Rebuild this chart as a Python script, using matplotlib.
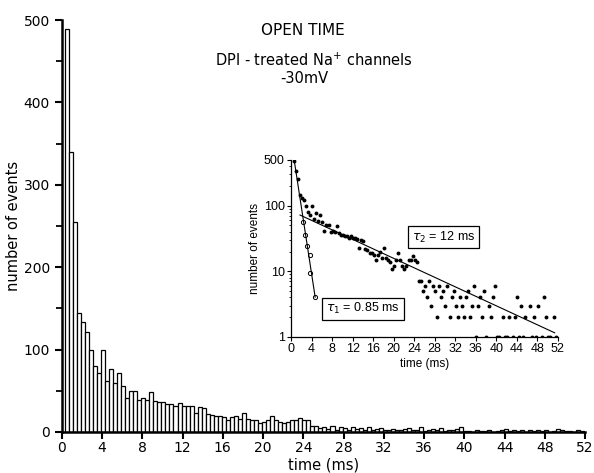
import matplotlib
matplotlib.use("Agg")
import matplotlib.pyplot as plt
import numpy as np

# ---------------- data ----------------
bin_start = 0.3      # ms, left edge of first bin
bin_width = 0.4      # ms
counts = [
    489, 340, 255, 145, 133, 121, 100, 80, 72, 100,
    62, 77, 59, 72, 56, 41, 50, 50, 39, 41,
    39, 49, 38, 36, 36, 34, 34, 32, 35, 32,
    32, 31, 23, 30, 29, 22, 21, 19, 19, 18,
    15, 18, 20, 16, 23, 16, 15, 14, 11, 12,
    15, 19, 15, 12, 11, 12, 15, 15, 17, 15,
    14, 7, 7, 5, 6, 4, 7, 3, 6, 5,
    2, 6, 4, 5, 3, 6, 2, 4, 5, 3,
    2, 4, 3, 2, 4, 5, 2, 3, 6, 1,
    3, 4, 2, 5, 1, 3, 2, 4, 6, 1,
    1, 0, 2, 1, 1, 2, 0, 1, 2, 4,
    1, 3, 1, 2, 0, 3, 1, 2, 1, 3,
    0, 1, 4, 2, 1, 1, 0, 2, 1,
]
main_xticks = list(range(0, 53, 4))
main_yticks = [0, 100, 200, 300, 400, 500]

# fast component (open circles) in inset
fast_t = [2.3, 2.7, 3.2, 3.6, 3.7, 4.7]
fast_n = [57, 36, 24, 17.7, 9.3, 4.0]

# fitted exponentials
tau1, A1, fit1_range = 0.85, 1013.0, (0.5, 4.7)
tau2, A2, fit2_range = 12.0, 83.3, (1.75, 51.4)

inset_yticks = [1, 10, 100, 500]
inset_xticks = list(range(0, 53, 4))

# ---------------- figure ----------------
fig = plt.figure(figsize=(5.94, 4.73), dpi=100)
ax = fig.add_axes([0.104, 0.0867, 0.881, 0.871])

edges = bin_start + bin_width * np.arange(len(counts))
ax.bar(edges, counts, width=bin_width, align="edge", facecolor="white",
       edgecolor="black", linewidth=0.9)
ax.set_xlim(0, 52)
ax.set_ylim(0, 500)
for s in ("top", "right"):
    ax.spines[s].set_visible(False)
for s in ("left", "bottom"):
    ax.spines[s].set_linewidth(1.8)
ax.set_xticks(main_xticks)
ax.set_yticks(main_yticks)
ax.set_yticks(np.arange(50, 500, 100), minor=True)
ax.tick_params(axis="both", which="major", direction="out", length=5,
               width=1.5, labelsize=10)
ax.tick_params(axis="x", which="major", pad=1.5)
ax.tick_params(axis="y", which="minor", direction="out", length=4, width=1.3)
ax.set_xlabel("time (ms)", fontsize=10.5)
ax.xaxis.label.set_va("center")
ax.xaxis.set_label_coords(0.5, -0.081)
ax.set_ylabel("number of events", fontsize=10.5, labelpad=2)

fig.text(0.51, 0.935, "OPEN TIME", fontsize=11, ha="center", va="center")
fig.text(0.529, 0.873, "DPI - treated Na$^{+}$ channels", fontsize=10.5,
         ha="center", va="center")
fig.text(0.513, 0.833, "-30mV", fontsize=10.5, ha="center", va="center")

# ---------------- inset ----------------
fam = ["Liberation Sans", "DejaVu Sans"]
ins = fig.add_axes([0.490, 0.288, 0.449, 0.374])
ins.set_facecolor("none")
centers = edges + bin_width / 2
cnt = np.array(counts, dtype=float)
mask = cnt > 0
ins.plot(centers[mask], cnt[mask], "o", color="black", markersize=2.8,
         markeredgewidth=0)
ins.plot(fast_t, fast_n, "o", markerfacecolor="white",
         markeredgecolor="black", markersize=3.0, markeredgewidth=0.7)
t1 = np.linspace(*fit1_range, 50)
ins.plot(t1, A1 * np.exp(-t1 / tau1), color="black", linewidth=0.8)
t2 = np.linspace(*fit2_range, 50)
ins.plot(t2, A2 * np.exp(-t2 / tau2), color="black", linewidth=0.8)

ins.set_yscale("log")
ins.set_ylim(1, 500)
ins.set_xlim(0, 52)
for s in ("top", "right"):
    ins.spines[s].set_visible(False)
for s in ("left", "bottom"):
    ins.spines[s].set_linewidth(0.9)
ins.set_yticks(inset_yticks)
ins.set_yticklabels([str(v) for v in inset_yticks], family=fam)
ins.set_xticks(inset_xticks)
ins.set_xticklabels([str(v) for v in inset_xticks], family=fam)
ins.tick_params(axis="both", which="major", direction="out", length=3,
                width=0.8, labelsize=9, pad=1.5)
ins.tick_params(axis="y", which="minor", direction="out", length=1.8,
                width=0.6)
ins.set_xlabel("time (ms)", fontsize=8.5, family=fam, labelpad=2)
ins.set_ylabel("number of events", fontsize=8.5, family=fam, labelpad=2)

box = dict(boxstyle="square,pad=0.3", facecolor="white", edgecolor="black",
           linewidth=0.9)
ins.text(0.573, 0.564, r"$\tau_2$ = 12 ms", transform=ins.transAxes,
         fontsize=9, family=fam, ha="center", va="center", bbox=box)
ins.text(0.27, 0.158, r"$\tau_1$ = 0.85 ms", transform=ins.transAxes,
         fontsize=9, family=fam, ha="center", va="center", bbox=box)

fig.savefig("out.png", dpi=100)
